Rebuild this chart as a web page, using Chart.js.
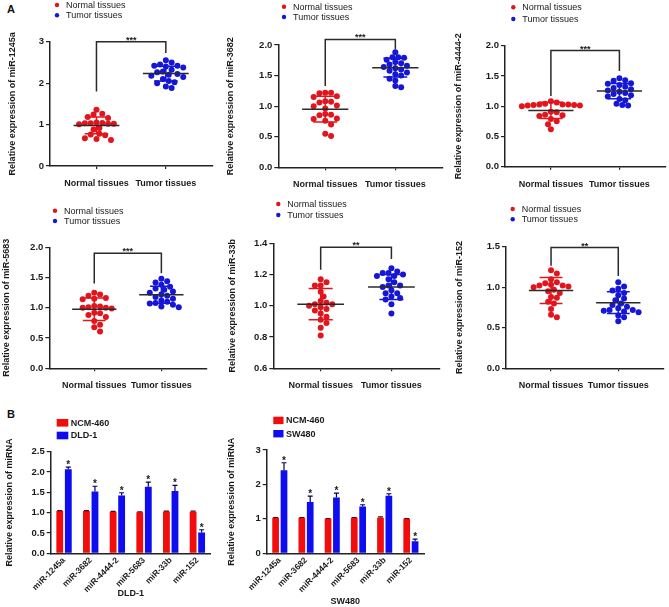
<!DOCTYPE html>
<html>
<head>
<meta charset="utf-8">
<script src="https://cdn.jsdelivr.net/npm/chart.js@4.4.0/dist/chart.umd.min.js"></script>
<style>
  body { margin: 0; background: #fff; }
  #wrap { position: relative; width: 669px; height: 607px; overflow: hidden; font-family: "Liberation Sans", Arial, sans-serif; }
  #wrap canvas { position: absolute; }
  .tag { position: absolute; font-weight: bold; font-size: 11px; line-height: 11px; color: #111; }
</style>
</head>
<body>
<div id="wrap">
  <div class="tag" style="left:7px;top:4px">A</div>
  <div class="tag" style="left:7px;top:409px">B</div>
</div>
<script>
"use strict"

const groups = ["Normal tissues", "Tumor tissues"];

// A: relative expression per tissue sample
const normal1245a = [1.36, 1.24, 1.26, 1.16, 1.18, 1.03, 1.02, 1.04, 1.01, 1.03, 1.02, 1.05, 0.92, 0.88, 0.78, 0.76, 0.74, 0.67, 0.63, 0.65];
const tumor1245a = [2.55, 2.50, 2.45, 2.42, 2.42, 2.40, 2.38, 2.32, 2.28, 2.26, 2.22, 2.20, 2.18, 2.15, 2.10, 2.05, 2.02, 2.00, 1.92, 1.88];
const mean1245a = [0.98, 2.23];
const sd1245a = [0.20, 0.18];
const yTicks1245a = [0, 1, 2, 3];

const normal3682 = [1.22, 1.21, 1.22, 1.16, 1.15, 1.08, 1.07, 1.06, 1.01, 1.00, 0.96, 0.87, 0.86, 0.85, 0.80, 0.79, 0.76, 0.70, 0.55, 0.51];
const tumor3682 = [1.88, 1.80, 1.80, 1.79, 1.76, 1.72, 1.70, 1.68, 1.66, 1.64, 1.62, 1.60, 1.58, 1.55, 1.52, 1.50, 1.45, 1.42, 1.33, 1.31];
const mean3682 = [0.95, 1.63];
const sd3682 = [0.21, 0.155];
const yTicks3682 = [0, 0.5, 1, 1.5, 2];

const normal4444 = [1.08, 1.06, 1.04, 1.03, 1.03, 1.03, 1.02, 1.02, 1.01, 1.01, 1.00, 0.91, 0.90, 0.86, 0.85, 0.84, 0.79, 0.75, 0.70, 0.62];
const tumor4444 = [1.46, 1.43, 1.42, 1.38, 1.37, 1.35, 1.32, 1.30, 1.28, 1.26, 1.24, 1.22, 1.20, 1.18, 1.16, 1.12, 1.10, 1.04, 1.02, 1.01];
const mean4444 = [0.93, 1.25];
const sd4444 = [0.135, 0.125];
const yTicks4444 = [0, 0.5, 1, 1.5, 2];

const normal5683 = [1.25, 1.22, 1.20, 1.16, 1.15, 1.14, 1.03, 1.02, 1.01, 1.00, 1.00, 0.99, 0.92, 0.91, 0.88, 0.85, 0.78, 0.72, 0.68, 0.61];
const tumor5683 = [1.48, 1.44, 1.42, 1.38, 1.35, 1.32, 1.30, 1.27, 1.25, 1.22, 1.20, 1.18, 1.15, 1.12, 1.10, 1.08, 1.07, 1.05, 1.02, 1.01];
const mean5683 = [0.975, 1.215];
const sd5683 = [0.185, 0.14];
const yTicks5683 = [0, 0.5, 1, 1.5, 2];

const normal33b = [1.17, 1.15, 1.13, 1.13, 1.09, 1.06, 1.03, 1.02, 1.01, 1.01, 1.00, 0.99, 0.98, 0.97, 0.95, 0.93, 0.91, 0.89, 0.86, 0.81];
const tumor33b = [1.24, 1.22, 1.21, 1.21, 1.20, 1.19, 1.19, 1.17, 1.15, 1.13, 1.13, 1.12, 1.10, 1.08, 1.08, 1.06, 1.05, 1.04, 1.01, 0.95];
const mean33b = [1.01, 1.12];
const sd33b = [0.10, 0.08];
const yTicks33b = [0.6, 0.8, 1.0, 1.2, 1.4];

const normal152 = [1.21, 1.17, 1.10, 1.06, 1.05, 1.03, 1.02, 1.02, 1.01, 1.00, 0.97, 0.95, 0.93, 0.88, 0.87, 0.82, 0.80, 0.73, 0.66, 0.63];
const tumor152 = [1.06, 1.01, 0.98, 0.96, 0.93, 0.90, 0.86, 0.84, 0.80, 0.78, 0.76, 0.74, 0.72, 0.72, 0.71, 0.70, 0.69, 0.65, 0.63, 0.58];
const mean152 = [0.96, 0.81];
const sd152 = [0.16, 0.135];
const yTicks152 = [0, 0.5, 1, 1.5];

// B: cell lines
const mirNames = ["miR-1245a", "miR-3682", "miR-4444-2", "miR-5683", "miR-33b", "miR-152"];
const ncmDld = [1.04, 1.04, 1.02, 1.01, 1.03, 1.02];
const ncmDldErr = [0.01, 0.01, 0.01, 0.01, 0.01, 0.02];
const dld1 = [2.07, 1.52, 1.42, 1.64, 1.53, 0.51];
const dld1Err = [0.05, 0.13, 0.07, 0.11, 0.14, 0.07];
const ncmSw = [1.03, 1.03, 1.00, 1.03, 1.03, 1.00];
const ncmSwErr = [0.01, 0.01, 0.01, 0.01, 0.03, 0.01];
const sw480 = [2.41, 1.49, 1.62, 1.36, 1.67, 0.35];
const sw480Err = [0.22, 0.17, 0.13, 0.05, 0.06, 0.06];
const starsCell = ["*", "*", "*", "*", "*", "*"];
const yTicksDld = [0, 0.5, 1, 1.5, 2, 2.5];
const yTicksSw = [0, 1, 2, 3];

const fam = "'Liberation Sans', Arial, sans-serif";
Chart.defaults.font.family = fam;
Chart.defaults.color = "#1a1a1a";

const dotRed = "#e3151c";
const dotBlue = "#1616d6";
const barRed = "#f20d0d";
const barBlue = "#0d0def";
const ink = "#1a1a1a";

const xMin = 0.33, xMax = 2.68;

// cell = [left, top, width, height], area = [axisX, axisEnd, yTop, yBottom]
const panels = [
  { normal: normal1245a, tumor: tumor1245a, mean: mean1245a, sd: sd1245a, ticks: yTicks1245a, dec: 0, name: "miR-1245a", stars: "***",
    cell: [0, 0, 223, 195], area: [50, 213, 41.7, 166], titleX: 13, legend: [57, 5, 15.3], bracket: [3.0, 1.8, 2.73] },
  { normal: normal3682, tumor: tumor3682, mean: mean3682, sd: sd3682, ticks: yTicks3682, dec: 1, name: "miR-3682", stars: "***",
    cell: [223, 0, 222, 195], area: [278.3, 443, 45, 167.3], titleX: 231, legend: [284, 6.7, 17], bracket: [2.09, 1.33, 1.93] },
  { normal: normal4444, tumor: tumor4444, mean: mean4444, sd: sd4444, ticks: yTicks4444, dec: 1, name: "miR-4444-2", stars: "***",
    cell: [445, 0, 224, 195], area: [505, 666, 45.7, 166.7], titleX: 459, legend: [513.3, 7.3, 19], bracket: [1.92, 1.17, 1.58] },
  { normal: normal5683, tumor: tumor5683, mean: mean5683, sd: sd5683, ticks: yTicks5683, dec: 1, name: "miR-5683", stars: "***",
    cell: [0, 195, 223, 200], area: [49.3, 207, 247.3, 368.3], titleX: 7, legend: [55, 210.7, 221], bracket: [1.90, 1.40, 1.57] },
  { normal: normal33b, tumor: tumor33b, mean: mean33b, sd: sd33b, ticks: yTicks33b, dec: 1, name: "miR-33b", stars: "**",
    cell: [223, 195, 222, 200], area: [273.3, 439.5, 243.3, 368.3], titleX: 233, legend: [278.3, 204, 215], bracket: [1.374, 1.23, 1.30] },
  { normal: normal152, tumor: tumor152, mean: mean152, sd: sd152, ticks: yTicks152, dec: 1, name: "miR-152", stars: "**",
    cell: [445, 195, 224, 200], area: [506, 664, 246.7, 368.3], titleX: 460, legend: [512.7, 209, 219.3], bracket: [1.49, 1.265, 1.14] }
];

function makeCanvas(cell) {
  const c = document.createElement("canvas");
  c.width = cell[2];
  c.height = cell[3];
  c.style.left = cell[0] + "px";
  c.style.top = cell[1] + "px";
  document.getElementById("wrap").appendChild(c);
  return c;
}

// simple beeswarm: each dot takes the free sideways slot nearest the column centre
// pxX / pxY are pixels per data unit, so dots are kept about one diameter apart on screen
function swarm(values, center, pxX, pxY) {
  const diam = 5.5, half = 2.9;
  const placed = [];
  [...values].sort((a, b) => b - a).forEach(v => {
    for (let k = 0; k < 40; k++) {
      const off = (k % 2 ? 1 : -1) * Math.ceil(k / 2) * half;
      const free = placed.every(p => {
        const dx = (p.dx - off), dy = (p.y - v) * pxY;
        return dx * dx + dy * dy >= diam * diam;
      });
      if (free) { placed.push({ dx: off, y: v }); break; }
    }
  });
  return placed.map(p => ({ x: center + p.dx / pxX, y: p.y }));
}

const dotLegend = {
  id: "dotLegend",
  afterDraw(chart, args, o) {
    const ctx = chart.ctx;
    ctx.save();
    ctx.font = "9px " + fam;
    ctx.textBaseline = "middle";
    chart.data.datasets.forEach((ds, i) => {
      const y = o.y[i];
      ctx.fillStyle = ds.backgroundColor;
      ctx.beginPath();
      ctx.arc(o.x, y, 2.2, 0, Math.PI * 2);
      ctx.fill();
      ctx.fillStyle = ink;
      ctx.fillText(ds.label, o.x + 9, y + 0.5);
    });
    ctx.restore();
  }
};

const meanSd = {
  id: "meanSd",
  afterDatasetsDraw(chart, args, o) {
    const { ctx, scales: { x, y } } = chart;
    ctx.save();
    ctx.lineWidth = 1.5;
    chart.data.datasets.forEach((ds, i) => {
      const c = i + 1, m = o.mean[i], s = o.sd[i];
      const xc = x.getPixelForValue(c);
      const xa = x.getPixelForValue(c - 0.17), xb = x.getPixelForValue(c + 0.17);
      const yt = y.getPixelForValue(m + s), yb = y.getPixelForValue(m - s);
      ctx.strokeStyle = ds.borderColor;
      ctx.beginPath();
      ctx.moveTo(xc, yt); ctx.lineTo(xc, yb);
      ctx.moveTo(xa, yt); ctx.lineTo(xb, yt);
      ctx.moveTo(xa, yb); ctx.lineTo(xb, yb);
      ctx.stroke();
      ctx.strokeStyle = "#2a2a2a";
      ctx.beginPath();
      ctx.moveTo(x.getPixelForValue(c - 0.33), y.getPixelForValue(m));
      ctx.lineTo(x.getPixelForValue(c + 0.33), y.getPixelForValue(m));
      ctx.stroke();
    });
    ctx.restore();
  }
};

const bracket = {
  id: "bracket",
  afterDraw(chart, args, o) {
    const { ctx, scales: { x, y } } = chart;
    const x1 = x.getPixelForValue(1), x2 = x.getPixelForValue(2);
    const top = y.getPixelForValue(o.top);
    ctx.save();
    ctx.strokeStyle = "#2a2a2a";
    ctx.lineWidth = 1.5;
    ctx.beginPath();
    ctx.moveTo(x1, y.getPixelForValue(o.left));
    ctx.lineTo(x1, top);
    ctx.lineTo(x2, top);
    ctx.lineTo(x2, y.getPixelForValue(o.right));
    ctx.stroke();
    ctx.fillStyle = ink;
    ctx.font = "bold 9px " + fam;
    ctx.textAlign = "center";
    ctx.textBaseline = "alphabetic";
    ctx.fillText(o.text, (x1 + x2) / 2, top + 1);
    ctx.restore();
  }
};

panels.forEach(p => {
  const [l, t, w, h] = p.cell;
  const [x0, x1, yTop, yBot] = p.area;
  const yMin = p.ticks[0], yMax = p.ticks[p.ticks.length - 1];
  const pxY = (yBot - yTop) / (yMax - yMin);
  const pxX = (x1 - x0) / (xMax - xMin);
  new Chart(makeCanvas(p.cell), {
    type: "scatter",
    data: {
      datasets: [
        { label: groups[0], data: swarm(p.normal, 1, pxX, pxY), backgroundColor: dotRed, borderColor: dotRed, pointRadius: 3, pointBorderWidth: 0 },
        { label: groups[1], data: swarm(p.tumor, 2, pxX, pxY), backgroundColor: dotBlue, borderColor: dotBlue, pointRadius: 3, pointBorderWidth: 0 }
      ]
    },
    options: {
      responsive: false,
      animation: false,
      events: [],
      layout: { autoPadding: false, padding: { left: 0, top: yTop - t, right: l + w - x1, bottom: 0 } },
      plugins: {
        legend: { display: false },
        tooltip: { enabled: false },
        dotLegend: { x: p.legend[0] - l, y: [p.legend[1] - t, p.legend[2] - t] },
        meanSd: { mean: p.mean, sd: p.sd },
        bracket: { top: p.bracket[0], left: p.bracket[1], right: p.bracket[2], text: p.stars }
      },
      scales: {
        x: {
          type: "linear", min: xMin, max: xMax,
          afterBuildTicks: a => { a.ticks = [{ value: 1 }, { value: 2 }]; },
          ticks: { callback: v => groups[v - 1], font: { size: 9, weight: "bold" }, color: ink, padding: 9, maxRotation: 0 },
          grid: { display: true, drawOnChartArea: false, tickLength: 3, color: "#222", lineWidth: 1.2 },
          border: { color: "#222", width: 1.5 },
          afterFit: s => { s.height = t + h - yBot; }
        },
        y: {
          min: yMin, max: yMax,
          afterBuildTicks: a => { a.ticks = p.ticks.map(v => ({ value: v })); },
          ticks: { callback: v => v.toFixed(p.dec), font: { size: 9.5, weight: "bold" }, color: ink, padding: 2 },
          grid: { display: true, drawOnChartArea: false, tickLength: 4, color: "#222", lineWidth: 1.2 },
          border: { color: "#222", width: 1.5 },
          title: { display: true, text: "Relative expression of " + p.name, font: { size: 9, weight: "bold" }, color: ink, padding: { top: p.titleX - l - 5.4, bottom: 0 } },
          afterFit: s => { s.width = x0 - l; }
        }
      }
    },
    plugins: [dotLegend, meanSd, bracket]
  });
});

const barExtras = {
  id: "barExtras",
  afterDatasetsDraw(chart, args, o) {
    const { ctx, scales: { y } } = chart;
    ctx.save();
    chart.data.datasets.forEach((ds, di) => {
      chart.getDatasetMeta(di).data.forEach((bar, i) => {
        const top = y.getPixelForValue(ds.data[i] + ds.errors[i]);
        ctx.strokeStyle = ds.errorColor;
        ctx.lineWidth = 1.2;
        ctx.beginPath();
        ctx.moveTo(bar.x, bar.y);
        ctx.lineTo(bar.x, top);
        ctx.moveTo(bar.x - 2.5, top);
        ctx.lineTo(bar.x + 2.5, top);
        ctx.stroke();
        if (ds.stars) {
          ctx.fillStyle = ink;
          ctx.font = "bold 10px " + fam;
          ctx.textAlign = "center";
          ctx.textBaseline = "alphabetic";
          ctx.fillText(ds.stars[i], bar.x, top + 1);
        }
      });
    });
    ctx.restore();
  },
  afterDraw(chart, args, o) {
    const ctx = chart.ctx;
    ctx.save();
    ctx.font = "bold 9px " + fam;
    ctx.textBaseline = "middle";
    chart.data.datasets.forEach((ds, i) => {
      const y = o.y[i];
      ctx.fillStyle = ds.backgroundColor;
      ctx.fillRect(o.x, y, o.w, o.h);
      ctx.fillStyle = ink;
      ctx.fillText(ds.label, o.x + o.w + 2.5, y + o.h / 2 + 0.5);
    });
    ctx.restore();
  }
};

const barPanels = [
  { line: "DLD-1", ncm: ncmDld, ncmErr: ncmDldErr, vals: dld1, err: dld1Err, ticks: yTicksDld, dec: 1,
    cell: [0, 375, 222, 232], area: [50.7, 210.7, 451.7, 553.3], titleX: 10, titleBottom: 8.5, legend: [56.7, 419, 431.7, 11.6, 7.6] },
  { line: "SW480", ncm: ncmSw, ncmErr: ncmSwErr, vals: sw480, err: sw480Err, ticks: yTicksSw, dec: 0,
    cell: [222, 375, 223, 232], area: [266.7, 424, 450, 553.3], titleX: 231.7, titleBottom: 0.5, legend: [273.3, 416.7, 430, 10.2, 7.4] }
];

barPanels.forEach(p => {
  const [l, t, w, h] = p.cell;
  const [x0, x1, yTop, yBot] = p.area;
  new Chart(makeCanvas(p.cell), {
    type: "bar",
    data: {
      labels: mirNames,
      datasets: [
        { label: "NCM-460", data: p.ncm, errors: p.ncmErr, backgroundColor: barRed, errorColor: "#5a0000" },
        { label: p.line, data: p.vals, errors: p.err, backgroundColor: barBlue, errorColor: "#00005a", stars: starsCell }
      ]
    },
    options: {
      responsive: false,
      animation: false,
      events: [],
      categoryPercentage: 0.64,
      barPercentage: 0.8,
      layout: { autoPadding: false, padding: { left: 0, top: yTop - t, right: l + w - x1, bottom: 0 } },
      plugins: {
        legend: { display: false },
        tooltip: { enabled: false },
        barExtras: { x: p.legend[0] - l, y: [p.legend[1] - t, p.legend[2] - t], w: p.legend[3], h: p.legend[4] }
      },
      scales: {
        x: {
          ticks: { font: { size: 8.5, weight: "bold" }, color: ink, minRotation: 45, maxRotation: 45, autoSkip: false, padding: 2 },
          grid: { display: false, drawTicks: false },
          border: { color: "#222", width: 1.5 },
          title: { display: true, text: p.line, font: { size: 9, weight: "bold" }, color: ink, padding: { top: 0, bottom: p.titleBottom } },
          afterFit: s => { s.height = t + h - yBot; }
        },
        y: {
          min: p.ticks[0], max: p.ticks[p.ticks.length - 1],
          afterBuildTicks: a => { a.ticks = p.ticks.map(v => ({ value: v })); },
          ticks: { callback: v => v.toFixed(p.dec), font: { size: 9.5, weight: "bold" }, color: ink, padding: 2 },
          grid: { display: true, drawOnChartArea: false, tickLength: 4, color: "#222", lineWidth: 1.2 },
          border: { color: "#222", width: 1.5 },
          title: { display: true, text: "Relative expression of miRNA", font: { size: 9, weight: "bold" }, color: ink, padding: { top: p.titleX - l - 5.4, bottom: 0 } },
          afterFit: s => { s.width = x0 - l; }
        }
      }
    },
    plugins: [barExtras]
  });
});
</script>
</body>
</html>
